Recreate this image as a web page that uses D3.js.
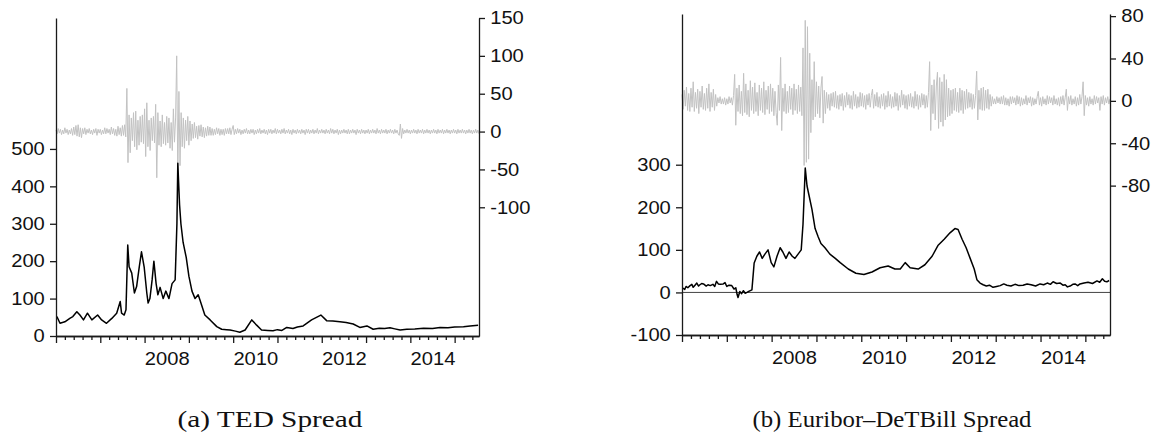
<!DOCTYPE html>
<html><head><meta charset="utf-8">
<script src="https://cdn.jsdelivr.net/npm/d3@7"></script>
<style>body{margin:0;background:#fff}</style>
</head><body><svg id="c" width="1153" height="437"></svg>
<script>
// ---------- DATA ----------
// Panel (a): TED spread level (bp), left axis
const tedYears = [2006.02,2006.09,2006.20,2006.32,2006.38,2006.47,2006.54,2006.62,2006.71,2006.81,2006.94,2007.03,2007.14,2007.26,2007.37,2007.45,2007.48,2007.54,2007.58,2007.62,2007.65,2007.71,2007.77,2007.82,2007.88,2007.93,2007.99,2008.05,2008.08,2008.12,2008.17,2008.21,2008.26,2008.30,2008.35,2008.42,2008.48,2008.55,2008.62,2008.69,2008.73,2008.75,2008.79,2008.82,2008.87,2008.94,2009.00,2009.07,2009.14,2009.21,2009.25,2009.36,2009.48,2009.63,2009.74,2009.85,2009.93,2010.05,2010.15,2010.27,2010.42,2010.53,2010.64,2010.78,2010.90,2011.00,2011.10,2011.21,2011.35,2011.45,2011.58,2011.77,2011.98,2012.11,2012.25,2012.41,2012.55,2012.71,2012.86,2013.02,2013.16,2013.30,2013.42,2013.54,2013.65,2013.77,2013.92,2014.10,2014.30,2014.50,2014.67,2014.85,2015.00,2015.20,2015.35,2015.53];
const tedValues = [52,34,38,48,52,65,56,43,61,43,56,43,34,47,61,92,61,56,70,243,185,168,115,132,185,225,185,115,88,100,150,200,140,110,130,100,120,100,140,150,300,462,350,300,250,210,160,120,100,110,96,56,43,25,18,17,16,13,10,16,43,29,16,15,14,17,15,23,20,24,27,43,56,41,40,38,36,32,23,27,18,21,20,22,19,16,18,19,21,20,23,22,24,25,27,29];
// Panel (a): daily changes (bp), right axis, one value every 0.025 year from 2006.0
const tedChangeStart = 2006.0;
const tedChangeStep = 0.025;
const tedChanges = [
 2,-3,4,-2,3,-4,2,-3,5,-2,3,-4,2,-3,4,-5,6,-4,8,-6,
 9,-7,5,-8,4,-3,5,-4,3,-2,4,-3,2,-4,3,-2,4,-5,3,-2,
 3,-4,2,-3,5,-3,4,-2,3,-4,6,-3,4,-5,3,-6,7,-4,5,-6,
 8,-5,9,-7,57,-41,22,-28,18,-12,25,-20,27,-24,15,-18,20,-14,22,-16,
 30,-33,38,-20,15,-25,18,-12,20,-15,36,-61,25,-18,14,-20,22,-16,12,-18,
 20,-15,18,-22,12,-25,30,-14,18,100,-60,53,-45,25,-20,18,-22,15,-12,20,
 -18,14,-12,10,-9,12,-8,7,-10,8,-6,9,-7,6,-8,5,-6,7,-5,6,
 -5,4,-5,3,-4,5,-3,4,-5,3,-4,3,-5,4,-3,4,-3,5,-4,3,
 8,-4,3,-3,4,-2,3,-4,2,-3,3,-2,4,-3,2,-3,3,-2,3,-4,
 2,-3,3,-2,4,-3,2,-2,3,-3,2,-4,3,-2,3,-3,2,-2,4,-3,
 3,-2,2,-3,3,-2,4,-3,2,-2,3,-3,2,-4,3,-2,2,-3,3,-2,
 2,-3,3,-2,2,-4,3,-2,3,-3,2,-2,3,-3,2,-2,4,-3,2,-2,
 3,-2,2,-3,3,-2,2,-3,4,-2,3,-3,2,-2,3,-4,2,-3,2,-2,
 3,-2,2,-3,3,-3,2,-2,3,-2,2,-4,3,-2,2,-3,3,-2,2,-3,
 2,-2,3,-3,2,-2,3,-2,2,-3,4,-2,2,-3,3,-2,2,-2,3,-3,
 2,-2,3,-2,2,-3,3,-2,2,-3,-5,10,-9,4,-3,2,-2,3,-2,2,
 -3,2,-2,3,-2,2,-3,3,-2,2,-2,3,-3,2,-2,3,-2,2,-3,2,
 -2,3,-2,2,-3,3,-2,2,-2,3,-3,2,-2,3,-2,2,-3,2,-2,3,
 -2,2,-3,3,-2,2,-2,3,-2,2,-3,2,-2,3,-2,2,-3,2,-2,3,
 -2,2,-3];
// Panel (b): Euribor–DeTBill spread level (bp), left axis
const eurYears = [2006.02,2006.06,2006.09,2006.13,2006.18,2006.22,2006.25,2006.29,2006.33,2006.37,2006.40,2006.44,2006.48,2006.54,2006.58,2006.63,2006.69,2006.73,2006.77,2006.81,2006.85,2006.92,2006.96,2007.00,2007.05,2007.11,2007.16,2007.20,2007.23,2007.25,2007.29,2007.33,2007.37,2007.41,2007.45,2007.50,2007.56,2007.61,2007.67,2007.73,2007.79,2007.85,2007.92,2007.99,2008.05,2008.12,2008.19,2008.25,2008.32,2008.39,2008.46,2008.52,2008.59,2008.66,2008.70,2008.75,2008.79,2008.83,2008.90,2008.97,2009.04,2009.10,2009.19,2009.30,2009.42,2009.53,2009.71,2009.88,2010.06,2010.24,2010.42,2010.60,2010.75,2010.87,2010.98,2011.09,2011.27,2011.42,2011.58,2011.71,2011.85,2011.98,2012.09,2012.16,2012.25,2012.34,2012.43,2012.52,2012.58,2012.65,2012.72,2012.79,2012.86,2012.94,2013.02,2013.10,2013.18,2013.25,2013.34,2013.43,2013.52,2013.61,2013.70,2013.79,2013.89,2013.99,2014.07,2014.15,2014.22,2014.28,2014.36,2014.44,2014.50,2014.55,2014.60,2014.66,2014.72,2014.77,2014.83,2014.88,2014.97,2015.06,2015.16,2015.26,2015.32,2015.38,2015.43,2015.48,2015.53];
const eurValues = [10,7,14,11,16,19,12,17,22,15,18,21,20,15,18,16,19,14,26,20,19,20,23,14,17,16,8,11,-5,-12,2,-3,4,-2,0,3,6,69,85,95,80,90,100,70,60,85,105,95,80,95,85,80,90,100,160,292,250,230,195,150,130,115,105,90,80,70,55,45,42,48,58,62,55,55,70,58,55,65,85,110,125,140,150,148,125,105,80,55,30,22,18,15,17,12,14,16,20,17,15,19,16,17,20,18,15,20,18,22,19,25,21,22,17,18,13,15,19,20,16,20,22,24,21,27,24,32,26,25,28];
// Panel (b): daily changes (bp), right axis, one value every 0.025 year from 2006.0
const eurChangeStart = 2006.0;
const eurChangeStep = 0.025;
const eurChanges = [
 6,-8,10,-5,13,-9,7,-10,12,-6,18,-10,8,-7,11,-12,9,-6,14,-8,
 7,-9,12,-7,16,-10,8,-6,11,-9,6,-5,3,-2,4,-3,2,-3,3,-4,
 2,-3,4,-2,3,-4,5,25,-23,12,-10,15,-12,9,-14,26,-11,16,-13,10,
 -15,19,-9,13,-12,17,-10,8,-14,15,-9,12,-11,18,-13,10,-8,14,-12,16,
 -10,12,-14,9,-11,-23,15,-9,41,-28,12,-10,16,-12,9,-11,14,-8,12,-13,
 16,-9,11,-12,15,-10,13,-14,50,-61,76,-58,70,-55,45,-30,20,-18,37,-15,
 18,-12,14,-16,12,23,-21,10,-12,8,-7,6,-9,7,-5,8,-6,9,-7,5,
 -8,6,-5,7,-9,5,-6,8,-4,6,-7,5,-8,9,-5,6,-7,4,-6,8,
 -5,7,-6,5,-8,6,-4,7,-6,5,11,-7,6,-5,8,-6,4,-7,6,-5,
 7,-8,5,-6,9,-5,6,-7,4,-6,8,-5,7,-9,5,-6,10,-4,6,-7,
 5,-8,6,-5,7,-6,4,-7,9,-5,6,-8,5,-6,7,-4,6,-7,5,-6,
 8,37,-28,15,-12,20,-18,14,27,-26,22,-20,18,-24,25,-18,20,-15,12,-14,
 10,-12,11,-9,12,-10,8,-11,12,-9,10,-12,9,-8,11,-7,8,-6,7,-8,
 6,-7,5,28,-18,10,-8,12,-9,13,-9,10,-7,11,-8,6,-5,4,-3,2,
 -3,4,-2,3,-3,4,-3,5,-4,3,-4,2,-5,4,-3,4,-2,3,-4,5,
 -3,4,-5,3,-4,2,-3,5,-4,3,-2,4,-5,3,-4,2,-3,4,9,-4,
 3,-5,4,-3,2,-4,5,-3,4,-2,3,-4,5,-3,2,-4,3,-5,4,-3,
 5,-4,3,11,-9,4,-3,5,-4,2,-3,4,-5,3,-4,6,-3,4,18,-14,
 5,-4,3,-5,4,-3,2,-4,5,-3,4,-2,3,-9,4,-3,5,-4,3,-2,
 4,-3,2];
// Axis ticks
const tedLeftTicks = [0,100,200,300,400,500];
const tedRightTicks = [-100,-50,0,50,100,150];
const eurLeftTicks = [-100,0,100,200,300];
const eurRightTicks = [-80,-40,0,40,80];
const yearLabels = [2008,2010,2012,2014];
const captions = ["(a) TED Spread","(b) Euribor\u2013DeTBill Spread"];

// ---------- DRAW ----------
const svg = d3.select('#c');
svg.append('rect').attr('width',1153).attr('height',437).attr('fill','#fff');
const FONT = "'Liberation Sans', Arial, sans-serif";
const AX = '#1a1a1a';

function styleAxis(g){
  g.attr('font-size',18).attr('font-family',FONT);
  g.selectAll('path,line').attr('stroke',AX).attr('stroke-width',1.3);
  g.selectAll('text').attr('fill','#111').attr('transform','scale(1.12,1)');
}
const fmt = d => String(d);

function panel(p){
  const x = d3.scaleLinear().domain([2006,2015.55]).range([p.x0,p.x1]);
  const yL = d3.scaleLinear().domain(p.leftDomain).range([p.yb,p.yt]);
  const yR = d3.scaleLinear().domain(p.rightDomain).range([p.yb,p.yt]);
  const g = svg.append('g');

  // gray change series (right axis)
  const ch = p.changes.map((v,i)=>({t:p.chStart+i*p.chStep, v}));
  g.append('path').datum(ch)
    .attr('fill','none').attr('stroke','#c2c2c2').attr('stroke-width',1)
    .attr('d', d3.line().x(d=>x(d.t)).y(d=>yR(d.v)));

  if (p.zeroLine) {
    g.append('line').attr('x1',p.x0).attr('x2',p.x1)
      .attr('y1',yL(0)).attr('y2',yL(0)).attr('stroke','#444').attr('stroke-width',1);
  }

  // black level series (left axis)
  const lv = p.years.map((t,i)=>({t, v:p.values[i]}));
  g.append('path').datum(lv)
    .attr('fill','none').attr('stroke','#000').attr('stroke-width',1.5)
    .attr('stroke-linejoin','round')
    .attr('d', d3.line().x(d=>x(d.t)).y(d=>yL(d.v)));

  // left axis
  g.append('g').attr('transform',`translate(${p.x0},0)`)
    .call(d3.axisLeft(yL).tickValues(p.leftTicks).tickFormat(fmt).tickSize(6).tickPadding(4).tickSizeOuter(0))
    .call(styleAxis);
  // right axis
  g.append('g').attr('transform',`translate(${p.x1},0)`)
    .call(d3.axisRight(yR).tickValues(p.rightTicks).tickFormat(fmt).tickSize(6).tickPadding(4).tickSizeOuter(0))
    .call(styleAxis);

  // bottom axis: minor ticks every 0.2 year, major ticks every year
  const minor = d3.range(0,48).map(k=>2006+k*0.2).filter(t=>Math.abs(t-Math.round(t))>1e-6);
  const major = d3.range(2006,2016);
  g.append('g').attr('transform',`translate(0,${p.yb})`)
    .call(d3.axisBottom(x).tickValues(minor).tickSize(4).tickFormat('').tickSizeOuter(0))
    .call(styleAxis);
  g.append('g').attr('transform',`translate(0,${p.yb})`)
    .call(d3.axisBottom(x).tickValues(major).tickSize(7).tickFormat('').tickSizeOuter(0))
    .call(styleAxis);
  // year labels centred in their year
  g.append('g').attr('transform',`translate(0,${p.yb})`)
    .call(d3.axisBottom(x).tickValues(yearLabels.map(y=>y+0.5)).tickSize(0).tickPadding(16.5)
      .tickFormat(d=>String(Math.floor(d))).tickSizeOuter(0))
    .call(styleAxis)
    .call(a=>a.select('.domain').remove());

  // caption
  svg.append('text').attr('x',p.capX).attr('y',427).attr('text-anchor','middle')
    .attr('font-family',"'Liberation Serif', 'DejaVu Serif', serif").attr('font-size',24)
    .attr('textLength',p.capW).attr('lengthAdjust','spacingAndGlyphs')
    .attr('fill','#111').text(p.caption);
}

panel({x0:56,x1:479,yt:18,yb:336,leftDomain:[0,850],rightDomain:[-270,150],
  years:tedYears,values:tedValues,changes:tedChanges,chStart:tedChangeStart,chStep:tedChangeStep,
  leftTicks:tedLeftTicks,rightTicks:tedRightTicks,zeroLine:false,capX:270,capW:185,caption:captions[0]});
panel({x0:682,x1:1110,yt:14,yb:335,leftDomain:[-100,654],rightDomain:[-221,82],
  years:eurYears,values:eurValues,changes:eurChanges,chStart:eurChangeStart,chStep:eurChangeStep,
  leftTicks:eurLeftTicks,rightTicks:eurRightTicks,zeroLine:true,capX:892,capW:279,caption:captions[1]});
</script>
</body></html>
